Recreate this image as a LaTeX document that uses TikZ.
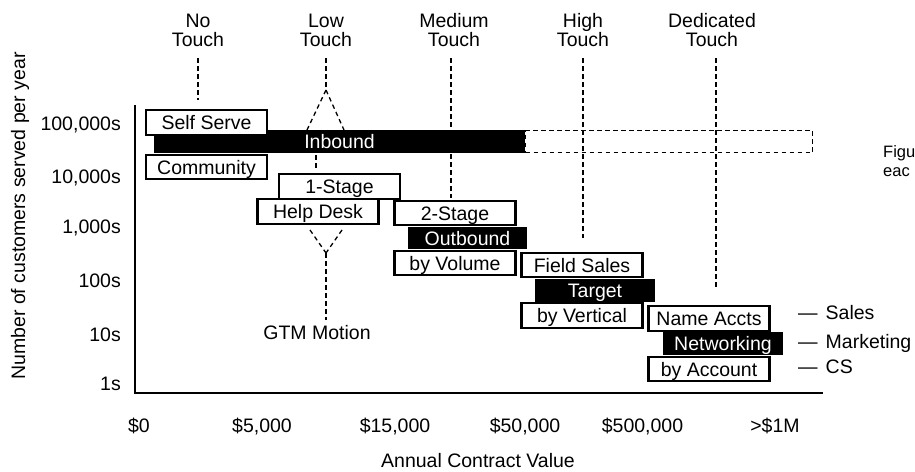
\documentclass[tikz,border=0pt]{standalone}
\usepackage{fontspec}
\setmainfont{Liberation Sans}
\begin{document}
\begin{tikzpicture}[x=1pt,y=-1pt,
  txt/.style={font=\fontsize{19.5}{19.5}\selectfont, inner sep=0pt},
  small/.style={font=\fontsize{16.5}{16.5}\selectfont, inner sep=0pt},
  wbox/.style={txt, draw=black, fill=white, line width=2.4pt,
    minimum width=121pt, minimum height=24.5pt, text height=14pt, text depth=0pt},
  bbar/.style={txt, fill=black, text=white,
    minimum width=120pt, minimum height=22.5pt, text height=14pt, text depth=0pt},
  guide/.style={line width=1.3pt, dash pattern=on 4.5pt off 3.5pt},
  axisline/.style={line width=2.6pt},
]
\useasboundingbox (0,0) rectangle (915,471);

% touch levels across the top
\node[txt, anchor=base] (noA) at (198,27.5) {No};
\node[txt, anchor=base] (noB) at (198,46) {Touch};
\node[txt, anchor=base] (lowA) at (326,27.5) {Low};
\node[txt, anchor=base] (lowB) at (326,46) {Touch};
\node[txt, anchor=base] (medA) at (454,27.5) {Medium};
\node[txt, anchor=base] (medB) at (454,46) {Touch};
\node[txt, anchor=base] (highA) at (583,27.5) {High};
\node[txt, anchor=base] (highB) at (583,46) {Touch};
\node[txt, anchor=base] (dedA) at (712,27.5) {Dedicated};
\node[txt, anchor=base] (dedB) at (712,46) {Touch};

% guide lines below each level
\coordinate (noT) at (198,58);   \coordinate (noE) at (198,100);
\coordinate (lowT) at (326,58);  \coordinate (lowS) at (326,90);
\coordinate (lowL) at (307,130); \coordinate (lowR) at (344,130);
\coordinate (lowM1) at (316,155); \coordinate (lowM2) at (316,168);
\coordinate (lowL2) at (310,230); \coordinate (lowR2) at (342,230);
\coordinate (lowJ) at (326,253); \coordinate (gtmT) at (326,320);
\coordinate (medT) at (451,58);  \coordinate (medE) at (451,198);
\coordinate (highT) at (583,58); \coordinate (highE) at (583,238);
\coordinate (dedT) at (716,58);  \coordinate (dedE) at (716,290);

\draw[guide] (noT) -- (noE);
\draw[guide] (lowT) -- (lowS);
\draw[guide] (lowS) -- (lowL);
\draw[guide] (lowS) -- (lowR);
\draw[guide] (lowM1) -- (lowM2);
\draw[guide] (lowL2) -- (lowJ);
\draw[guide] (lowR2) -- (lowJ);
\draw[guide] (lowJ) -- (gtmT);
\draw[guide] (medT) -- (medE);
\draw[guide] (highT) -- (highE);
\draw[guide] (dedT) -- (dedE);

\node[txt, anchor=base] (gtm) at (317,339) {GTM Motion};

% axes
\coordinate (ytop) at (135,105);
\coordinate (orig) at (135,393);
\coordinate (xend) at (823,393);
\draw[axisline] (ytop) -- (orig) -- (xend);

% tick labels
\node[txt, anchor=base east] (y5) at (121,130) {100,000s};
\node[txt, anchor=base east] (y4) at (121,183.5) {10,000s};
\node[txt, anchor=base east] (y3) at (121,233.5) {1,000s};
\node[txt, anchor=base east] (y2) at (121,287) {100s};
\node[txt, anchor=base east] (y1) at (121,341.7) {10s};
\node[txt, anchor=base east] (y0) at (121,390) {1s};

\node[txt, anchor=base] (x0) at (139,432) {\$0};
\node[txt, anchor=base] (x1) at (262,432) {\$5,000};
\node[txt, anchor=base] (x2) at (395,432) {\$15,000};
\node[txt, anchor=base] (x3) at (525,432) {\$50,000};
\node[txt, anchor=base] (x4) at (642.5,432) {\$500,000};
\node[txt, anchor=base] (x5) at (775,432) {>\$1M};

\node[txt, anchor=base, text depth=0pt] (xtitle) at (478,467) {Annual Contract Value};
\node[txt, anchor=base, rotate=90] (ytitle) at (25,216) {Number of customers served per year};

% inbound band and its dashed extension
\node[draw=black, guide, minimum width=287pt, minimum height=22pt, inner sep=0pt] (inext) at (669,141.5) {};
\node[bbar, minimum width=371pt, minimum height=23pt] (inbound) at (339.5,141.5) {Inbound};

% marketing bars
\node[bbar, minimum width=119pt] (outbound) at (467.5,238) {Outbound};
\node[bbar] (target) at (595,290.5) {Target};
\node[bbar] (networking) at (723,343.5) {Networking};

% sales / CS boxes
\node[wbox] (self) at (206.5,122.5) {Self Serve};
\node[wbox] (community) at (206.5,167) {Community};
\node[wbox] (stage1) at (339.5,186.5) {1-Stage};
\node[wbox] (helpdesk) at (318,211.5) {Help Desk};
\node[wbox] (stage2) at (455,213) {2-Stage};
\node[wbox] (volume) at (455,263) {by Volume};
\node[wbox] (field) at (582,265) {Field Sales};
\node[wbox] (vertical) at (582,315.5) {by Vertical};
\node[wbox] (named) at (709,318.5) {Name Accts};
\node[wbox] (account) at (709,369) {by Account};

% legend
\node[txt, anchor=base west] (lgS) at (798,319.5) {—\hspace{8pt}Sales};
\node[txt, anchor=base west] (lgM) at (798,348.5) {—\hspace{8pt}Marketing};
\node[txt, anchor=base west] (lgC) at (798,373.5) {—\hspace{8pt}CS};

% note at the right margin
\node[small, anchor=base west] (fig1) at (883,157.7) {Figu};
\node[small, anchor=base west] (fig2) at (883,176.7) {eac};
\end{tikzpicture}
\end{document}
